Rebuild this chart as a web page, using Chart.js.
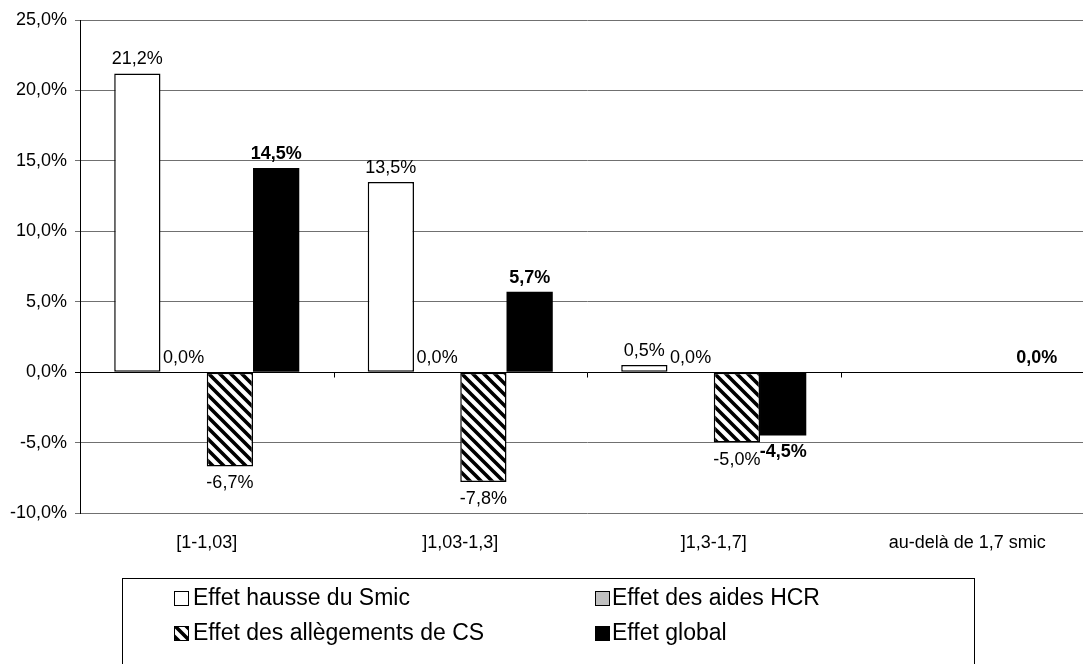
<!DOCTYPE html>
<html>
<head>
<meta charset="utf-8">
<script src="https://cdn.jsdelivr.net/npm/chart.js@4.4.1/dist/chart.umd.min.js"></script>
<style>
  html, body { margin: 0; padding: 0; background: #fff; overflow: hidden; }
  #wrap { position: relative; width: 1094px; height: 664px; }
</style>
</head>
<body>
<div id="wrap"><canvas id="myChart"></canvas></div>
<script>
const categories = ['[1-1,03]', ']1,03-1,3]', ']1,3-1,7]', 'au-delà de 1,7 smic'];
const seriesNames = ['Effet hausse du Smic', 'Effet des aides HCR', 'Effet des allègements de CS', 'Effet global'];
const hausseSmic = [21.2, 13.5, 0.5, null];
const aidesHCR = [0.0, 0.0, 0.0, null];
const allegementsCS = [-6.7, -7.8, -5.0, null];
const effetGlobal = [14.5, 5.7, -4.5, 0.0];
const boldSeries = [false, false, false, true];

const FONT = '"Liberation Sans", Arial, sans-serif';

// diagonal hatch like the excel pattern
function makeHatch() {
    const s = 11;
    const c = document.createElement('canvas');
    c.width = s; c.height = s;
    const g = c.getContext('2d');
    g.fillStyle = '#fff';
    g.fillRect(0, 0, s, s);
    g.strokeStyle = '#000';
    g.lineWidth = 3.6;
    g.beginPath();
    for (const k of [-1, 0, 1]) {
        g.moveTo(-s, -s + k * s);
        g.lineTo(2 * s, 2 * s + k * s);
    }
    g.stroke();
    return document.getElementById('myChart').getContext('2d').createPattern(c, 'repeat');
}

function fmt(v) {
    return v.toFixed(1).replace('.', ',') + '%';
}

const hatch = makeHatch();

const valueLabels = {
    id: 'valueLabels',
    afterDatasetsDraw(chart) {
        const ctx = chart.ctx;
        chart.data.datasets.forEach((ds, i) => {
            const meta = chart.getDatasetMeta(i);
            meta.data.forEach((bar, j) => {
                const v = ds.data[j];
                if (v === null || v === undefined) return;
                ctx.save();
                ctx.font = (boldSeries[i] ? 'bold ' : '') + '18px ' + FONT;
                ctx.fillStyle = '#000';
                ctx.textAlign = 'center';
                if (v >= 0) {
                    ctx.textBaseline = 'bottom';
                    ctx.fillText(fmt(v), bar.x, bar.y - 5);
                } else {
                    ctx.textBaseline = 'top';
                    ctx.fillText(fmt(v), bar.x, bar.y + 8);
                }
                ctx.restore();
            });
        });
    }
};

// small category ticks on the zero line + boxed legend
const extras = {
    id: 'extras',
    afterDraw(chart) {
        const ctx = chart.ctx;
        const xs = chart.scales.x, ys = chart.scales.y;
        const y0 = Math.round(ys.getPixelForValue(0)) + 0.5;
        ctx.save();
        ctx.strokeStyle = '#000';
        ctx.lineWidth = 1;
        for (let i = 1; i < categories.length; i++) {
            const x = Math.round((xs.getPixelForValue(i - 1) + xs.getPixelForValue(i)) / 2) + 0.5;
            ctx.beginPath();
            ctx.moveTo(x, y0);
            ctx.lineTo(x, y0 + 5);
            ctx.stroke();
        }

        ctx.strokeRect(122.5, 578.5, 852, 200);
        const spots = [[174, 598, 193], [595, 598, 612], [174, 633, 193], [595, 633, 612]];
        ctx.font = '23px ' + FONT;
        ctx.textBaseline = 'middle';
        ctx.textAlign = 'left';
        chart.data.datasets.forEach((ds, i) => {
            const [mx, my, tx] = spots[i];
            ctx.fillStyle = ds.backgroundColor;
            ctx.fillRect(mx, my - 7, 14, 14);
            ctx.strokeRect(mx + 0.5, my - 6.5, 14, 14);
            ctx.fillStyle = '#000';
            ctx.fillText(ds.label, tx, my + 1);
        });
        ctx.restore();
    }
};

const barData = {
    labels: categories,
    datasets: [
        { label: seriesNames[0], data: hausseSmic, backgroundColor: '#ffffff', borderColor: '#000', borderWidth: 1.5, borderSkipped: false },
        { label: seriesNames[1], data: aidesHCR, backgroundColor: '#c0c0c0', borderColor: '#000', borderWidth: 0 },
        { label: seriesNames[2], data: allegementsCS, backgroundColor: hatch, borderColor: '#000', borderWidth: 1.5, borderSkipped: false },
        { label: seriesNames[3], data: effetGlobal, backgroundColor: '#000000', borderColor: '#000', borderWidth: 0 }
    ]
};

new Chart(document.getElementById('myChart'), {
    type: 'bar',
    data: barData,
    options: {
        responsive: true,
        maintainAspectRatio: false,
        animation: false,
        layout: { padding: { top: 20, bottom: 111, left: 0, right: 0 } },
        datasets: { bar: { categoryPercentage: 0.73, barPercentage: 1.0 } },
        plugins: {
            legend: { display: false },
            tooltip: { enabled: false }
        },
        scales: {
            x: {
                grid: { display: false, drawTicks: false },
                border: { display: false },
                ticks: { color: '#000', font: { family: FONT, size: 18 }, padding: 19, maxRotation: 0 },
                afterFit(scale) { scale.height = 40; }
            },
            y: {
                min: -10,
                max: 25,
                ticks: {
                    stepSize: 5,
                    color: '#000',
                    padding: 8,
                    font: { family: FONT, size: 18 },
                    callback: (v) => fmt(v)
                },
                grid: {
                    color: (c) => (c.tick && c.tick.value === 0 ? '#000' : '#707070'),
                    tickLength: 5,
                    lineWidth: 1
                },
                border: { color: '#000', width: 1 },
                afterFit(scale) { scale.width = 80; }
            }
        }
    },
    plugins: [valueLabels, extras]
});
</script>
</body>
</html>
